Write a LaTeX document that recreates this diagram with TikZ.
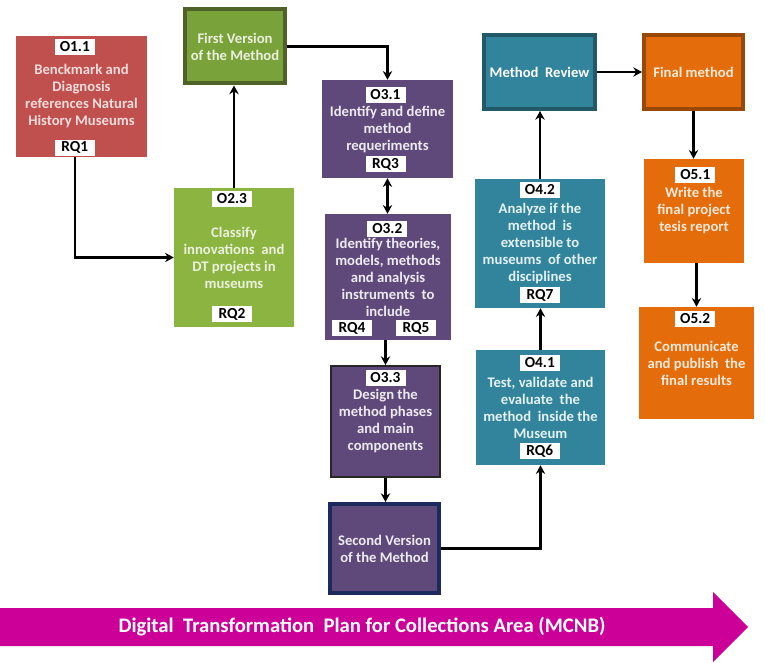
\documentclass[tikz,border=0pt]{standalone}
\usepackage{fontspec}
\setmainfont{Carlito}
\usepackage{xcolor}
\usepackage{tikz}
\usetikzlibrary{positioning, arrows.meta}
\definecolor{objred}{HTML}{C0504D}
\definecolor{objredtxt}{HTML}{F2DCDB}
\definecolor{objgreen}{HTML}{8CB441}
\definecolor{vgreen}{HTML}{7AA23A}
\definecolor{vgreenborder}{HTML}{4F6228}
\definecolor{objgreentxt}{HTML}{EBF1DE}
\definecolor{objpurple}{HTML}{5F497A}
\definecolor{objpurpletxt}{HTML}{EEEAF3}
\definecolor{navyborder}{HTML}{1C2A5E}
\definecolor{objteal}{HTML}{31849B}
\definecolor{tealborder}{HTML}{215968}
\definecolor{objtealtxt}{HTML}{E4F2F6}
\definecolor{objorange}{HTML}{E46C0A}
\definecolor{orangeborder}{HTML}{984807}
\definecolor{objorangetxt}{HTML}{FDE9D9}
\definecolor{planpink}{HTML}{CC0099}

\tikzset{
  box/.style={rectangle, inner sep=0pt, align=center,
              font=\fontsize{11}{12.75}\selectfont\bfseries},
  milestone/.style={box, line width=3pt},
  tag/.style={fill=white, inner sep=0pt, minimum width=30pt, minimum height=12pt,
              font=\fontsize{11.5}{12}\selectfont\bfseries, text=black},
  link/.style={line width=1.7pt, -{Stealth[length=6.5pt, width=7pt]}},
  redbox/.style={box, fill=objred, text=objredtxt},
  greenbox/.style={box, fill=objgreen, text=objgreentxt},
  purplebox/.style={box, fill=objpurple, text=objpurpletxt},
  tealbox/.style={box, fill=objteal, text=objtealtxt},
  orangebox/.style={box, fill=objorange, text=objorangetxt}
}

\begin{document}
\begin{tikzpicture}[x=0.75pt, y=-0.75pt]
  \useasboundingbox (0,0) rectangle (765,663);

  % objective 1 and 2
  \node[redbox, minimum width=98.25pt, minimum height=90.75pt] (o11) at (81.5,96.5)
    {Benckmark and\\Diagnosis\\references Natural\\History Museums};
  \node[tag, below=2.25pt of o11.north, xshift=-5pt] (o11tag) {O1.1};
  \node[tag, above=1pt of o11.south, xshift=-5pt] (rq1) {RQ1};

  \node[greenbox, minimum width=90pt, minimum height=104.25pt] (o23) at (234,257.5)
    {Classify\\innovations~ and\\DT projects in\\museums};
  \node[tag, below=2.25pt of o23.north, xshift=-1.5pt] (o23tag) {O2.3};
  \node[tag, above=3.75pt of o23.south, xshift=-1.5pt] (rq2) {RQ2};

  \node[milestone, fill=vgreen, draw=vgreenborder, text=objgreentxt,
        minimum width=75pt, minimum height=55.5pt] (v1) at (235,46.5)
    {First Version\\of the Method};

  % objective 3
  \node[purplebox, minimum width=98.25pt, minimum height=73.5pt] (o31) at (387.5,129)
    {Identify and define\\method\\requeriments};
  \node[tag, below=5pt of o31.north, xshift=-1.5pt] (o31tag) {O3.1};
  \node[tag, above=4.5pt of o31.south, xshift=-1.5pt] (rq3) {RQ3};

  \node[purplebox, minimum width=94.5pt, minimum height=94.5pt] (o32) at (388,277)
    {Identify theories,\\models, methods\\and analysis\\instruments~ to\\include};
  \node[tag, below=5pt of o32.north, xshift=-0.5pt] (o32tag) {O3.2};
  \node[tag, above=3pt of o32.south, xshift=-27pt] (rq4) {RQ4};
  \node[tag, above=3pt of o32.south, xshift=21pt] (rq5) {RQ5};

  \node[purplebox, draw=black!85, line width=1.2pt,
        minimum width=82pt, minimum height=83.5pt] (o33) at (385.5,421.5)
    {Design the\\method phases\\and main\\components};
  \node[tag, below=3.5pt of o33.north] (o33tag) {O3.3};

  \node[milestone, fill=objpurple, draw=navyborder, text=objpurpletxt,
        minimum width=81.75pt, minimum height=66.75pt] (v2) at (384.5,548.5)
    {Second Version\\of the Method};

  % objective 4
  \node[tealbox, minimum width=96.75pt, minimum height=86.25pt] (o41) at (540.5,407.5)
    {Test, validate and\\evaluate~ the\\method~ inside the\\Museum};
  \node[tag, below=3.75pt of o41.north, xshift=-0.5pt] (o41tag) {O4.1};
  \node[tag, above=4.5pt of o41.south, xshift=-0.5pt] (rq6) {RQ6};

  \node[tealbox, minimum width=97.5pt, minimum height=96.75pt] (o42) at (540,243.5)
    {Analyze if the\\method~ is\\extensible to\\museums~ of other\\disciplines};
  \node[tag, below=2.25pt of o42.north] (o42tag) {O4.2};
  \node[tag, above=3.75pt of o42.south] (rq7) {RQ7};

  \node[milestone, fill=objteal, draw=tealborder, text=white,
        minimum width=83.25pt, minimum height=55.5pt] (rev) at (539.5,72)
    {Method~ Review};

  % objective 5
  \node[milestone, fill=objorange, draw=orangeborder, text=objorangetxt,
        minimum width=74.25pt, minimum height=55.5pt] (fin) at (693.5,72)
    {Final method};

  \node[orangebox, minimum width=75pt, minimum height=78pt] (o51) at (694,211)
    {Write the\\final project\\tesis report};
  \node[tag, below=6pt of o51.north, xshift=1pt] (o51tag) {O5.1};

  \node[orangebox, minimum width=86.25pt, minimum height=84pt] (o52) at (696.5,363)
    {Communicate\\and publish~ the\\final results};
  \node[tag, below=3pt of o52.north, xshift=-1pt] (o52tag) {O5.2};

  % connectors
  \draw[link] (o11.south -| rq1) |- (o23.west);
  \draw[link] (o23.north) -- (o23.north |- v1.south);
  \draw[link] (v1.east) -| (o31.north);
  \draw[line width=1.7pt, {Stealth[length=6.5pt, width=7pt]}-{Stealth[length=6.5pt, width=7pt]}]
    (o31.south) -- (o31.south |- o32.north);
  \draw[link] (o33.north |- o32.south) -- (o33.north);
  \draw[link] (o33.south) -- (o33.south |- v2.north);
  \draw[link] (v2.east) -| (o41.south);
  \draw[link] (o41.north) -- (o41.north |- o42.south);
  \draw[link] (o42.north) -- (o42.north |- rev.south);
  \draw[link] (rev.east) -- (fin.west);
  \draw[link] (fin.south) -- (fin.south |- o51.north);
  \draw[link] (o52.north |- o51.south) -- (o52.north);

  % plan arrow along the bottom
  \fill[planpink] (0,608) -- (713,608) -- (713,592) -- (748,627)
    -- (713,662) -- (713,646) -- (0,646) -- cycle;
  \node[text=white, font=\fontsize{15.5}{18}\selectfont\bfseries] (plan) at (362,627)
    {Digital~ Transformation~ Plan for Collections Area (MCNB)};
\end{tikzpicture}
\end{document}
